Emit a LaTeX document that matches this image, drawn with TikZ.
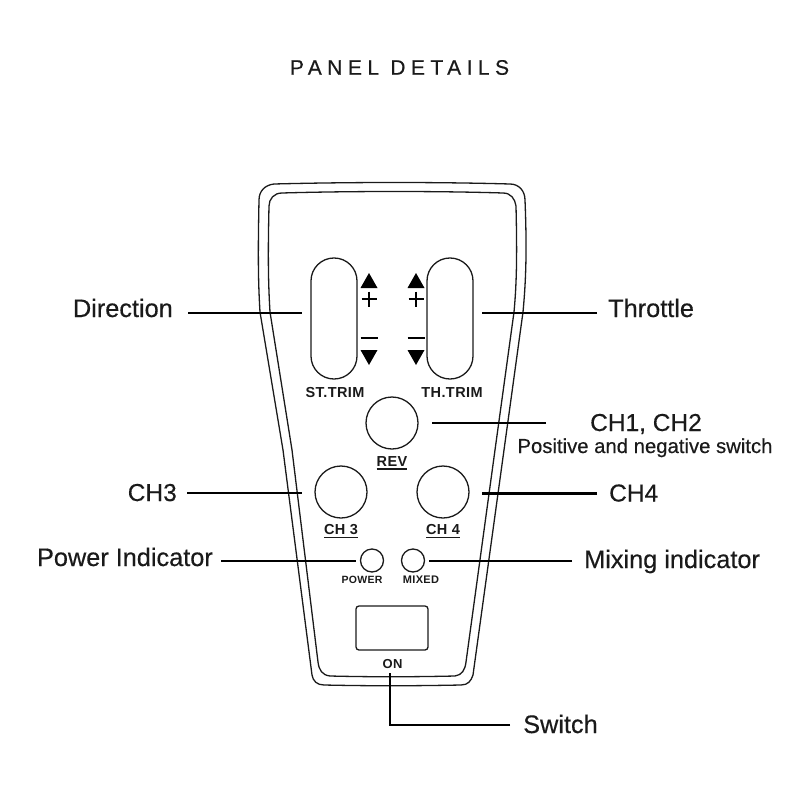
\documentclass[tikz,border=0pt]{standalone}
\usepackage{fontspec}
\setmainfont{Liberation Sans}
\newfontfamily\titlefont[LetterSpace=26,FakeBold=0.5]{Liberation Sans}
\newfontfamily\calloutfont[FakeBold=0.4]{Liberation Sans}
\newfontfamily\tagfont[LetterSpace=3]{Liberation Sans Bold}
\newcommand{\tagline}[2]{\setbox0=\hbox{#2}\vbox{\hsize=\wd0\box0\vskip #1pt\hrule height 1.5pt}}
\definecolor{ink}{HTML}{1A1A1A}
\tikzset{
  panelline/.style={draw=ink,line width=1.3pt},
  slot/.style={panelline,rectangle,rounded corners=22.9pt,minimum width=46pt,minimum height=121pt,inner sep=0pt},
  knob/.style={panelline,circle,minimum size=52pt,inner sep=0pt},
  lamp/.style={panelline,circle,minimum size=23pt,inner sep=0pt},
  leader/.style={draw=black,line width=2.4pt},
  callout/.style={inner sep=0pt,text=ink,font=\fontsize{25.3}{27}\calloutfont,text height=18pt,text depth=2pt},
  tagtext/.style={inner sep=0pt,text=ink,anchor=base,font=\fontsize{14.5}{15}\tagfont},
  trimmark/.style={fill=black,draw=none},
  bar/.style={draw=black,line width=2.8pt}
}
\begin{document}
\begin{tikzpicture}[x=1pt,y=-1pt]
  \useasboundingbox (0,0) rectangle (800,800);
  \node[text=ink,font=\fontsize{21}{23}\titlefont] (title) at (399.5,67.5) {PANEL DETAILS};
  % panel outline
  \draw[panelline] (274,184) .. controls (350,182) and (440,182) .. (510,184)
    .. controls (519,184) and (525,191) .. (525,200)
    .. controls (527,250) and (526,280) .. (523,312)
    -- (504,450) -- (473,675)
    .. controls (471,681) and (468,685) .. (461,685)
    .. controls (410,686) and (370,686) .. (324,685)
    .. controls (317,685) and (313,681) .. (312,675)
    -- (283,450) -- (260,312)
    .. controls (258,280) and (258,250) .. (259,200)
    .. controls (259,191) and (265,185) .. (274,184) -- cycle;
  \draw[panelline] (282,193) .. controls (350,191) and (440,191) .. (503,193)
    .. controls (511,193) and (515,199) .. (516,206)
    .. controls (517,250) and (517,280) .. (514,312)
    -- (495,450) -- (466,662)
    .. controls (465,670) and (462,675) .. (455,676)
    .. controls (410,677) and (370,677) .. (330,676)
    .. controls (322,675) and (319,670) .. (318,662)
    -- (292,450) -- (270,312)
    .. controls (268,280) and (268,250) .. (269,206)
    .. controls (269,199) and (274,193) .. (282,193) -- cycle;
  % controls
  \node[slot] (sttrim) at (334,318.5) {};
  \node[slot] (thtrim) at (450,318.5) {};
  \node[knob] (rev) at (392,423) {};
  \node[knob] (chthree) at (341,492) {};
  \node[knob] (chfour) at (443,492) {};
  \node[lamp] (power) at (372,560.5) {};
  \node[lamp] (mixed) at (413,560.5) {};
  \node[panelline,rectangle,rounded corners=3pt,minimum width=72pt,minimum height=44pt,inner sep=0pt] (display) at (392,628) {};
  % trim marks
  \foreach \x in {369,416} {
    \fill[trimmark] (\x,273) -- (\x+8.5,288) -- (\x-8.5,288) -- cycle;
    \fill[trimmark] (\x,365) -- (\x+8.5,350) -- (\x-8.5,350) -- cycle;
    \draw[bar] (\x-7.5,299) -- (\x+7.5,299);
    \draw[bar] (\x,291.5) -- (\x,306.5);
    \draw[bar] (\x-8.5,338) -- (\x+8.5,338);
  }
  % small labels
  \node[tagtext] (sttag) at (335,397) {ST.TRIM};
  \node[tagtext] (thtag) at (452,397) {TH.TRIM};
  \node[tagtext,anchor=north] (revtag) at (392,456) {\tagline{2}{REV}};
  \node[tagtext,anchor=north] (chthreetag) at (341,524.5) {\tagline{2}{CH 3}};
  \node[tagtext,anchor=north] (chfourtag) at (443,524.5) {\tagline{2}{CH 4}};
  \node[tagtext,font=\fontsize{10.5}{12}\tagfont] (powertag) at (362,583.5) {POWER};
  \node[tagtext,font=\fontsize{11}{12}\tagfont] (mixedtag) at (421,583.5) {MIXED};
  \node[tagtext,font=\fontsize{13}{14}\tagfont] (ontag) at (392.5,668.5) {ON};
  % callouts
  \node[callout,anchor=east,text depth=10pt] (direction) at (173,313) {Direction};
  \node[callout,anchor=west,text depth=10pt] (throttle) at (608,313) {Throttle};
  \node[callout,anchor=west,font=\fontsize{24.5}{26}\calloutfont] (chonetwo) at (590,423) {CH1, CH2};
  \node[inner sep=0pt,text=ink,anchor=base,font=\fontsize{20.3}{22}\calloutfont] (chnote) at (645,453) {Positive and negative switch};
  \node[callout,anchor=east,font=\fontsize{24.5}{26}\calloutfont] (chthreelbl) at (177,493) {CH3};
  \node[callout,anchor=west,font=\fontsize{24.5}{26}\calloutfont] (chfourlbl) at (609,493.5) {CH4};
  \node[callout,anchor=east,text depth=8pt] (powerlbl) at (213,561) {Power Indicator};
  \node[callout,anchor=west,text depth=4pt] (mixedlbl) at (584,561) {Mixing indicator};
  \node[callout,anchor=west] (switchlbl) at (523,725) {Switch};
  % leaders
  \draw[leader,shorten <=15pt,shorten >=8pt] (direction.east) -- (direction.east -| sttrim.west);
  \draw[leader,shorten <=11pt,shorten >=8pt] (throttle.west) -- (throttle.west -| thtrim.east);
  \draw[leader,shorten <=44pt,shorten >=13pt] (chonetwo.west) -- (rev.east);
  \draw[leader,shorten <=10pt,shorten >=12pt] (chthreelbl.east) -- (chthreelbl.east -| chthree.west);
  \draw[leader,shorten <=12pt,shorten >=12pt] (chfourlbl.west) -- (chfourlbl.west -| chfour.east);
  \draw[leader,shorten <=8pt,shorten >=3.5pt] (powerlbl.east) -- (powerlbl.east -| power.west);
  \draw[leader,shorten <=12pt,shorten >=4pt] (mixedlbl.west) -- (mixedlbl.west -| mixed.east);
  \draw[leader,shorten <=13pt,shorten >=4.5pt] (switchlbl.west) -| ([xshift=-2.5pt]ontag.south);
\end{tikzpicture}
\end{document}
